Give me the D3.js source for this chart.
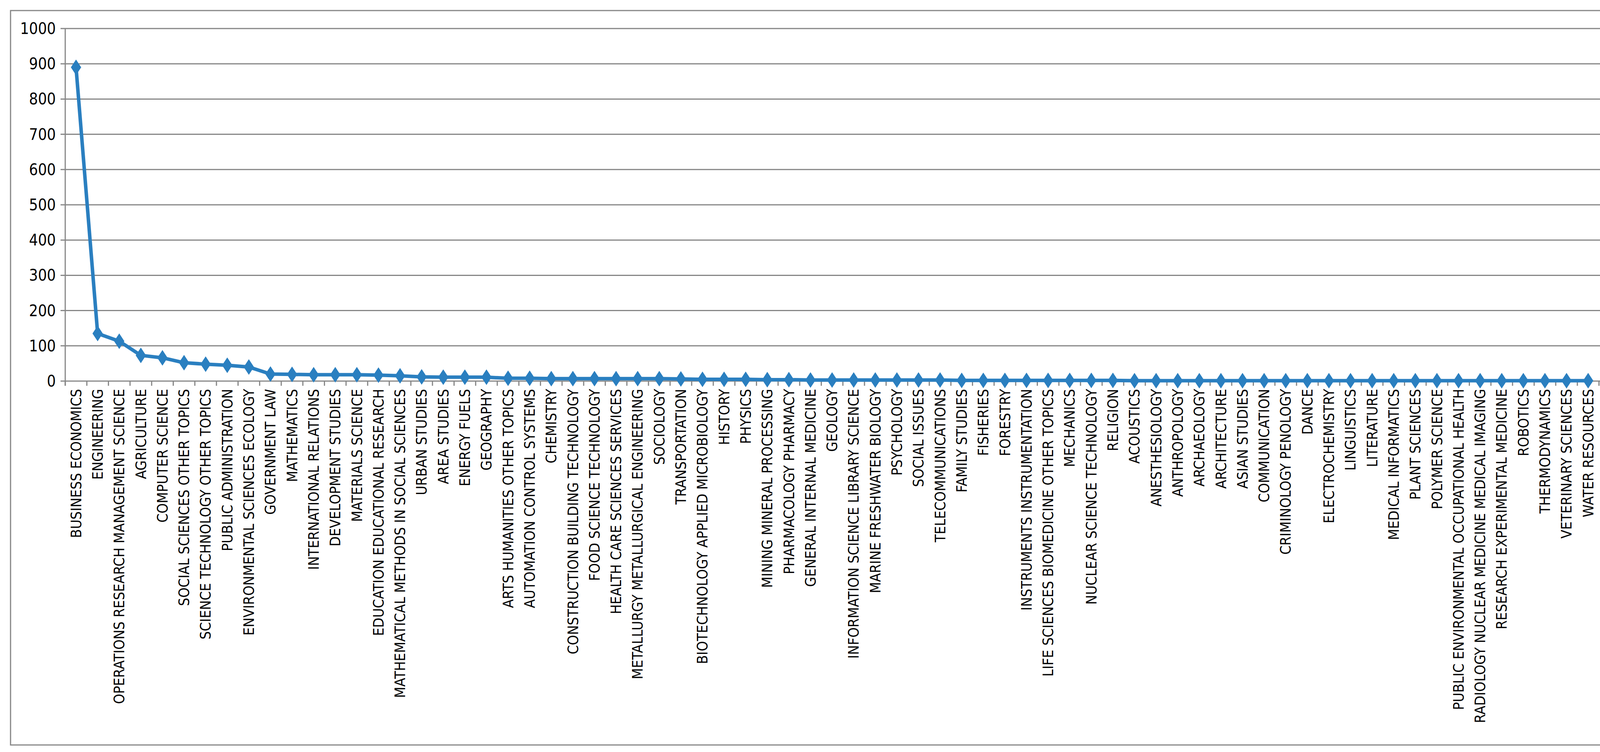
<!DOCTYPE html>
<html><head><meta charset="utf-8">
<script src="https://cdn.jsdelivr.net/npm/d3@7"></script>
<style>html,body{margin:0;padding:0;background:#fff;overflow:hidden}svg{display:block}text{font-family:"Liberation Sans Narrow","DejaVu Sans Condensed",sans-serif;fill:#000}</style>
</head><body><div id="svg"></div>
<script>
var categories = ["BUSINESS ECONOMICS","ENGINEERING","OPERATIONS RESEARCH MANAGEMENT SCIENCE","AGRICULTURE","COMPUTER SCIENCE","SOCIAL SCIENCES OTHER TOPICS","SCIENCE TECHNOLOGY OTHER TOPICS","PUBLIC ADMINISTRATION","ENVIRONMENTAL SCIENCES ECOLOGY","GOVERNMENT LAW","MATHEMATICS","INTERNATIONAL RELATIONS","DEVELOPMENT STUDIES","MATERIALS SCIENCE","EDUCATION EDUCATIONAL RESEARCH","MATHEMATICAL METHODS IN SOCIAL SCIENCES","URBAN STUDIES","AREA STUDIES","ENERGY FUELS","GEOGRAPHY","ARTS HUMANITIES OTHER TOPICS","AUTOMATION CONTROL SYSTEMS","CHEMISTRY","CONSTRUCTION BUILDING TECHNOLOGY","FOOD SCIENCE TECHNOLOGY","HEALTH CARE SCIENCES SERVICES","METALLURGY METALLURGICAL ENGINEERING","SOCIOLOGY","TRANSPORTATION","BIOTECHNOLOGY APPLIED MICROBIOLOGY","HISTORY","PHYSICS","MINING MINERAL PROCESSING","PHARMACOLOGY PHARMACY","GENERAL INTERNAL MEDICINE","GEOLOGY","INFORMATION SCIENCE LIBRARY SCIENCE","MARINE FRESHWATER BIOLOGY","PSYCHOLOGY","SOCIAL ISSUES","TELECOMMUNICATIONS","FAMILY STUDIES","FISHERIES","FORESTRY","INSTRUMENTS INSTRUMENTATION","LIFE SCIENCES BIOMEDICINE OTHER TOPICS","MECHANICS","NUCLEAR SCIENCE TECHNOLOGY","RELIGION","ACOUSTICS","ANESTHESIOLOGY","ANTHROPOLOGY","ARCHAEOLOGY","ARCHITECTURE","ASIAN STUDIES","COMMUNICATION","CRIMINOLOGY PENOLOGY","DANCE","ELECTROCHEMISTRY","LINGUISTICS","LITERATURE","MEDICAL INFORMATICS","PLANT SCIENCES","POLYMER SCIENCE","PUBLIC ENVIRONMENTAL OCCUPATIONAL HEALTH","RADIOLOGY NUCLEAR MEDICINE MEDICAL IMAGING","RESEARCH EXPERIMENTAL MEDICINE","ROBOTICS","THERMODYNAMICS","VETERINARY SCIENCES","WATER RESOURCES"];
var values = [890,135,113,73,66,52,48,45,40,20,19,18,18,18,17,15,12,11,11,11,8,8,7,7,7,7,7,7,6,5,5,5,4,4,3,3,3,3,3,3,3,2,2,2,2,2,2,2,2,1,1,1,1,1,1,1,1,1,1,1,1,1,1,1,1,1,1,1,1,1,1];
var yTicks = [0,100,200,300,400,500,600,700,800,900,1000];

var W = 4222, H = 1924,
    margin = {top: 73, left: 167, right: 4169, bottom: 975};
var svg = d3.select('#svg').append('svg').attr('width', W).attr('height', H);

svg.append('rect').attr('x', 27).attr('y', 27).attr('width', 4166).attr('height', 1879)
  .attr('fill', '#fff').attr('stroke', '#868686').attr('stroke-width', 3);

var x = d3.scaleBand().domain(categories).range([margin.left, margin.left + categories.length * 55.3]);
var y = d3.scaleLinear().domain([0, 1000]).range([margin.bottom, margin.top]);

// gridlines
svg.append('g').selectAll('line').data(yTicks).enter().append('line')
  .attr('x1', margin.left - 12).attr('x2', margin.right)
  .attr('y1', d => y(d)).attr('y2', d => y(d))
  .attr('stroke', '#868686').attr('stroke-width', 3);

// y axis
svg.append('line').attr('x1', margin.left).attr('x2', margin.left)
  .attr('y1', margin.top).attr('y2', margin.bottom + 12).attr('stroke', '#868686').attr('stroke-width', 3);
svg.append('g').selectAll('text').data(yTicks).enter().append('text')
  .attr('x', margin.left - 24).attr('y', d => y(d)).attr('dy', '0.35em')
  .attr('text-anchor', 'end').style('font-size', '40px').text(d => d);

// x ticks
var bounds = categories.map(c => x(c)).concat([x(categories[categories.length - 1]) + x.bandwidth()]);
svg.append('g').selectAll('line').data(bounds).enter().append('line')
  .attr('x1', d => d).attr('x2', d => d).attr('y1', margin.bottom).attr('y2', margin.bottom + 12)
  .attr('stroke', '#868686').attr('stroke-width', 3);

// category labels
svg.append('g').selectAll('text').data(categories).enter().append('text')
  .attr('transform', d => 'translate(' + (x(d) + x.bandwidth() / 2) + ',' + (margin.bottom + 20) + ') rotate(-90)')
  .attr('dy', '0.35em').attr('text-anchor', 'end').style('font-size', '37px').text(d => d);

// line
var line = d3.line().x((d, i) => x(categories[i]) + x.bandwidth() / 2).y(d => y(d));
svg.append('path').attr('d', line(values)).attr('fill', 'none')
  .attr('stroke', '#2a7fc0').attr('stroke-width', 9).attr('stroke-linejoin', 'round');

svg.append('g').selectAll('path').data(values).enter().append('path')
  .attr('d', d3.symbol().type(d3.symbolDiamond).size(420))
  .attr('transform', (d, i) => 'translate(' + (x(categories[i]) + x.bandwidth() / 2) + ',' + y(d) + ') scale(1.2,1.05)')
  .attr('fill', '#2a7fc0');
</script></body></html>
